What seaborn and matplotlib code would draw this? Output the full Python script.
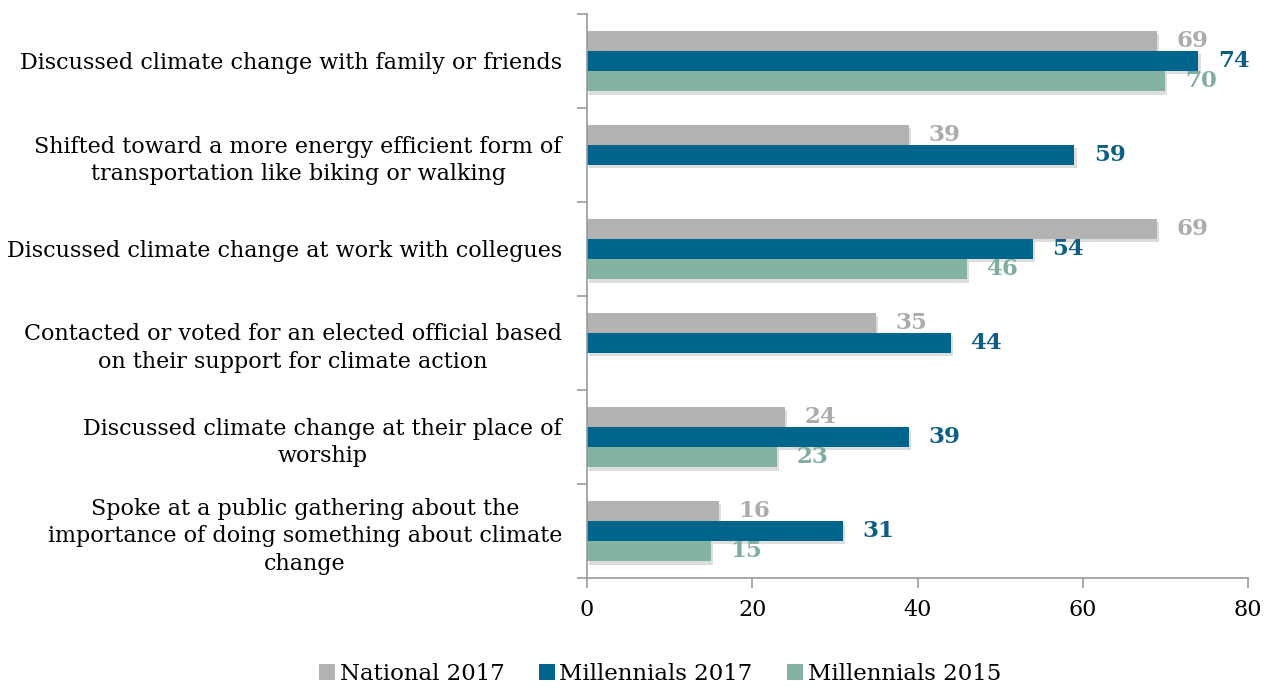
import matplotlib
matplotlib.use("Agg")
import matplotlib.pyplot as plt
import matplotlib.patheffects as pe
from matplotlib.patches import Patch
import seaborn as sns
import numpy as np
import pandas as pd

categories = [
    "Discussed climate change with family or friends",
    "Shifted toward a more energy efficient form of\ntransportation like biking or walking",
    "Discussed climate change at work with collegues",
    "Contacted or voted for an elected official based\non their support for climate action",
    "Discussed climate change at their place of\nworship",
    "Spoke at a public gathering about the\nimportance of doing something about climate\nchange",
]
series_names = ["National 2017", "Millennials 2017", "Millennials 2015"]
national_2017 = [69, 39, 69, 35, 24, 16]
millennials_2017 = [74, 59, 54, 44, 39, 31]
millennials_2015 = [70, np.nan, 46, np.nan, 23, 15]

bar_colors = ["#b3b3b3", "#00658c", "#84b3a2"]
label_colors = ["#ababab", "#0d5d84", "#7fae9e"]

rows = []
for name, vals in zip(series_names, [national_2017, millennials_2017, millennials_2015]):
    for c, v in zip(categories, vals):
        rows.append({"category": c, "series": name, "value": v})
df = pd.DataFrame(rows)

sns.set_style("white")
plt.rcParams["font.family"] = ["DejaVu Serif"]
plt.rcParams["text.color"] = "black"
plt.rcParams["xtick.labelcolor"] = "black"
plt.rcParams["ytick.labelcolor"] = "black"

fig = plt.figure(figsize=(12.72, 6.95), dpi=100)
ax = fig.add_axes([587 / 1272, 1 - 578 / 695, (1248 - 587) / 1272, (578 - 14) / 695])

sns.barplot(data=df, y="category", x="value", hue="series", orient="h",
            order=categories, hue_order=series_names, palette=bar_colors,
            width=0.64, ax=ax, legend=False, saturation=1)

shadow = [pe.SimplePatchShadow(offset=(1.5, -2.5), alpha=0.18, shadow_rgbFace="#444444"), pe.Normal()]
for p in ax.patches:
    p.set_path_effects(shadow)
    p.set_linewidth(0)

for container, col in zip(ax.containers, label_colors):
    labels = ["" if (v is None or np.isnan(v)) else f"{int(v)}" for v in container.datavalues]
    ax.bar_label(container, labels=labels, padding=14, color=col,
                 fontsize=16.5, fontweight="bold")

ax.set_xlim(0, 80)
ax.set_ylim(5.5, -0.5)
ax.set_xticks([0, 20, 40, 60, 80])
ax.set_xticklabels(["0", "20", "40", "60", "80"], fontsize=16, color="black")
ax.set_yticks(range(len(categories)))
ax.set_yticklabels(categories, fontsize=16, multialignment="center", linespacing=1.35, color="black")
ax.set_yticks(np.arange(-0.5, 6, 1), minor=True)
ax.tick_params(axis="y", which="major", length=0, pad=18)
ax.tick_params(axis="y", which="minor", length=7, width=1.2, color="#999999", direction="out", left=True)
ax.tick_params(axis="x", which="major", length=7, width=1.2, color="#999999", direction="out", bottom=True, pad=8)
ax.set_xlabel("")
ax.set_ylabel("")
for s in ["top", "right"]:
    ax.spines[s].set_visible(False)
for s in ["left", "bottom"]:
    ax.spines[s].set_color("#999999")
    ax.spines[s].set_linewidth(1.2)

handles = [Patch(facecolor=c, edgecolor="none") for c in bar_colors]
fig.legend(handles, series_names, loc="lower center", bbox_to_anchor=(660 / 1272, -0.015),
           ncol=3, frameon=False, fontsize=16.5, handlelength=0.7, handleheight=0.7,
           handletextpad=0.2, columnspacing=1.5, labelcolor="black")

fig.savefig("out.png", dpi=100)
